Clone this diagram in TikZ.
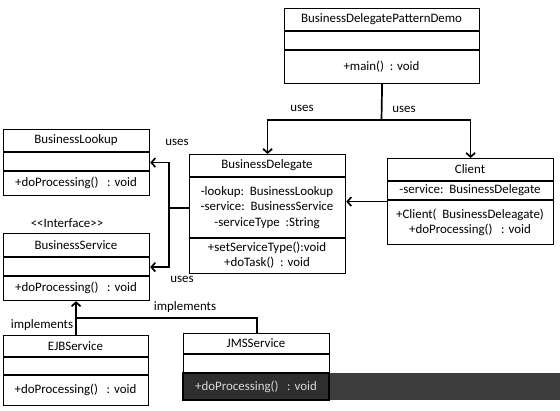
\documentclass[tikz,border=0pt]{standalone}
\usepackage{fontspec}
\setmainfont{Carlito}
\usetikzlibrary{arrows.meta}
\begin{document}
\begin{tikzpicture}[x=1pt,y=-1pt,
  font=\fontsize{12.9}{15}\selectfont,
  classbox/.style={draw,line width=1.2pt,anchor=north west,inner sep=0pt},
  divider/.style={line width=1.2pt},
  txt/.style={inner sep=0pt,align=center},
  conn/.style={line width=1.7pt,-{Straight Barb[length=4pt,width=9pt,line width=1.7pt]}},
  seg/.style={line width=1.7pt},
  lbl/.style={inner sep=0pt}]
\fill[white] (0,0) rectangle (560,411);
\useasboundingbox (0,0) rectangle (560,411);

% BusinessDelegatePatternDemo
\node[classbox,minimum width=195pt,minimum height=75pt] (demo) at (284,8) {};
\draw[divider] (284,31) -- (479,31) (284,50) -- (479,50);
\node[txt] (demot) at (381.5,19.5) {BusinessDelegatePatternDemo};
\node[txt] (demoo) at (381.5,66.5) {+main()\ \ : void};

% BusinessDelegate
\node[classbox,minimum width=156pt,minimum height=119pt] (bd) at (189,154) {};
\draw[divider] (189,177) -- (345,177) (189,238) -- (345,238);
\node[txt] (bdt) at (267,165.5) {BusinessDelegate};
\node[txt,font=\fontsize{12.9}{15.5}\selectfont] (bda) at (267,207.5) {-lookup:\ \ BusinessLookup\\-service:\ \ BusinessService\\-serviceType\ \ :String};
\node[txt] (bdo) at (267,255.5) {+setServiceType():void\\+doTask()\ \ : void};

% Client
\node[classbox,minimum width=166pt,minimum height=86pt] (client) at (387,158) {};
\draw[divider] (387,181) -- (553,181) (387,200) -- (553,200);
\node[txt] (clientt) at (470,169.5) {Client};
\node[txt] (clienta) at (470,190.5) {-service:\ \ BusinessDelegate};
\node[txt,font=\fontsize{12.9}{14.5}\selectfont] (cliento) at (470,222.5) {+Client(\ \ BusinessDeleagate)\\+doProcessing()\ \ \ : void};

% BusinessLookup
\node[classbox,minimum width=146pt,minimum height=66pt] (lookup) at (3,129) {};
\draw[divider] (3,152) -- (149,152) (3,171) -- (149,171);
\node[txt] (lookupt) at (76,140.5) {BusinessLookup};
\node[txt] (lookupo) at (76,183) {+doProcessing()\ \ \ : void};

% BusinessService
\node[lbl] (iface) at (67,223) {<{}<Interface>{}>};
\node[classbox,minimum width=146pt,minimum height=67pt] (service) at (3,233) {};
\draw[divider] (3,257) -- (149,257) (3,276) -- (149,276);
\node[txt] (servicet) at (76,245) {BusinessService};
\node[txt] (serviceo) at (76,288) {+doProcessing()\ \ \ : void};

% EJBService
\node[classbox,minimum width=145pt,minimum height=70pt] (ejb) at (3,335) {};
\draw[divider] (3,357) -- (148,357) (3,375) -- (148,375);
\node[txt] (ejbt) at (75.5,346) {EJBService};
\node[txt] (ejbo) at (75.5,390) {+doProcessing()\ \ \ : void};

% JMSService
\node[classbox,minimum width=146pt,minimum height=67pt] (jms) at (183,333) {};
\draw[divider] (183,354) -- (329,354);
\fill[black!76] (183,373) rectangle (560,400);
\fill[black!82] (183,373) rectangle (329,400);
\draw[line width=1.4pt] (183,373) rectangle (329,400);
\node[txt] (jmst) at (256,343.5) {JMSService};
\node[txt,text=black!15] (jmso) at (256,386.5) {+doProcessing()\ \ \ : void};

% connectors
\coordinate (j1) at (381.5,120);
\draw[seg] (demo.south) -- (j1);
\draw[conn] (j1) -| (bd.north);
\draw[conn] (j1) -| (client.north);
\draw[conn] (client.west) -- (client.west -| bd.east);
\coordinate (j2) at (169,208);
\draw[seg] (bd.west |- j2) -- (j2);
\draw[conn] (j2) |- (lookup.east);
\draw[conn] (j2) |- (service.east);
\coordinate (j3) at (257,318);
\draw[conn] (ejb.north) -- (ejb.north |- service.south);
\draw[seg] (jms.north -| j3) |- (ejb.north |- j3);

% labels
\node[lbl] (u1) at (302,108) {uses};
\node[lbl] (u2) at (404,109) {uses};
\node[lbl] (u3) at (177,142) {uses};
\node[lbl] (u4) at (182,279) {uses};
\node[lbl] (i1) at (185,307) {implements};
\node[lbl] (i2) at (42,325) {implements};
\end{tikzpicture}
\end{document}
